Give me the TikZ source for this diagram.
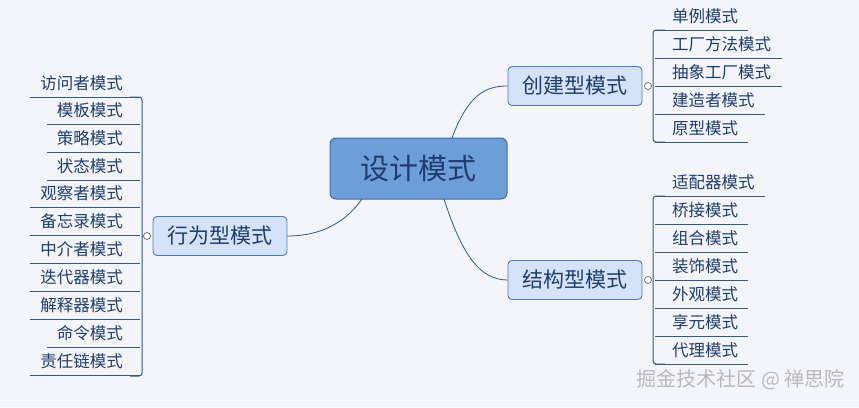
\documentclass[tikz,border=0pt]{standalone}
\usepackage{fontspec}
\newfontfamily\cjk{Noto Sans CJK SC}
\begin{document}
\begin{tikzpicture}[x=1pt,y=-1pt,
  ln/.style={draw=lc,line width=1pt},
  leaf/.style={font=\cjk\fontsize{16.5}{18}\selectfont,text=tc,inner sep=0pt},
  mid/.style={draw=nb,fill=nf,rounded corners=4pt,line width=0.9pt,minimum width=134pt,minimum height=39pt,font=\cjk\fontsize{21}{24}\selectfont,text=tc},
  knob/.style={circle,draw=gray!80!black,fill=white,inner sep=0pt,minimum size=7pt,line width=0.7pt}]
\definecolor{bg}{HTML}{F3F5FA}
\definecolor{lc}{HTML}{2F5A8A}
\definecolor{tc}{HTML}{1F3D6E}
\definecolor{nb}{HTML}{4A7BC0}
\definecolor{nf}{HTML}{D5E3FA}
\definecolor{cf}{HTML}{6E9ED8}
\definecolor{cb}{HTML}{3D6FAE}
\fill[bg] (0,0) rectangle (859,407);
\useasboundingbox (0,0) rectangle (859,407);
% center
\node[draw=cb,fill=cf,rounded corners=6pt,line width=1pt,minimum width=177pt,minimum height=61pt,font=\cjk\fontsize{29}{32}\selectfont,text=tc] (c) at (418.5,168.5) {设计模式};
\node[mid] (b) at (220,236) {行为型模式};
\node[mid] (cr) at (575,86) {创建型模式};
\node[mid] (st) at (575,280) {结构型模式};
\draw[ln,line width=0.8pt] (362,199) .. controls (340,230) and (310,236) .. (b.east);
\draw[ln,line width=0.8pt] (452,138) .. controls (468,95) and (485,86) .. (cr.west);
\draw[ln,line width=0.8pt] (444,199) .. controls (462,255) and (480,280) .. (st.west);
% left branch
\foreach \t/\y/\x in {访问者模式/83/30,模板模式/110/47,策略模式/138/47,状态模式/166/47,观察者模式/193/30,备忘录模式/221/30,中介者模式/249/30,迭代器模式/277/30,解释器模式/305/30,命令模式/333/47,责任链模式/361/30}{
  \node[leaf,anchor=east] (l\y) at (123,\y) {\t};
  \draw[ln] (\x,\y+14) -- (140,\y+14);
}
\draw[ln,rounded corners=3pt] (130,97) -- (142,97) -- (142,376) -- (130,376);
\node[knob] (kb) at (147,236) {};
\draw[ln] (142,237) -- (kb);
% creational
\foreach \t/\y/\x in {单例模式/16/748,工厂方法模式/44/782,抽象工厂模式/72/782,建造者模式/100/765,原型模式/128/748}{
  \node[leaf,anchor=west] (r\y) at (672,\y) {\t};
  \draw[ln] (655,\y+14) -- (\x,\y+14);
}
\draw[ln,rounded corners=3pt] (665,30) -- (653,30) -- (653,142) -- (665,142);
\node[knob] (kc) at (648,86) {};
% structural
\foreach \t/\y/\x in {适配器模式/182/765,桥接模式/210/748,组合模式/238/748,装饰模式/266/748,外观模式/294/748,享元模式/322/748,代理模式/350/748}{
  \node[leaf,anchor=west] (s\y) at (672,\y) {\t};
  \draw[ln] (655,\y+14) -- (\x,\y+14);
}
\draw[ln,rounded corners=3pt] (665,196) -- (653,196) -- (653,364) -- (665,364);
\node[knob] (ks) at (648,280) {};
% watermark
\node[font=\cjk\fontsize{20}{22}\selectfont,text=gray!55,anchor=east] (wm) at (848,380) {掘金技术社区 @ 禅思院};
\end{tikzpicture}
\end{document}
